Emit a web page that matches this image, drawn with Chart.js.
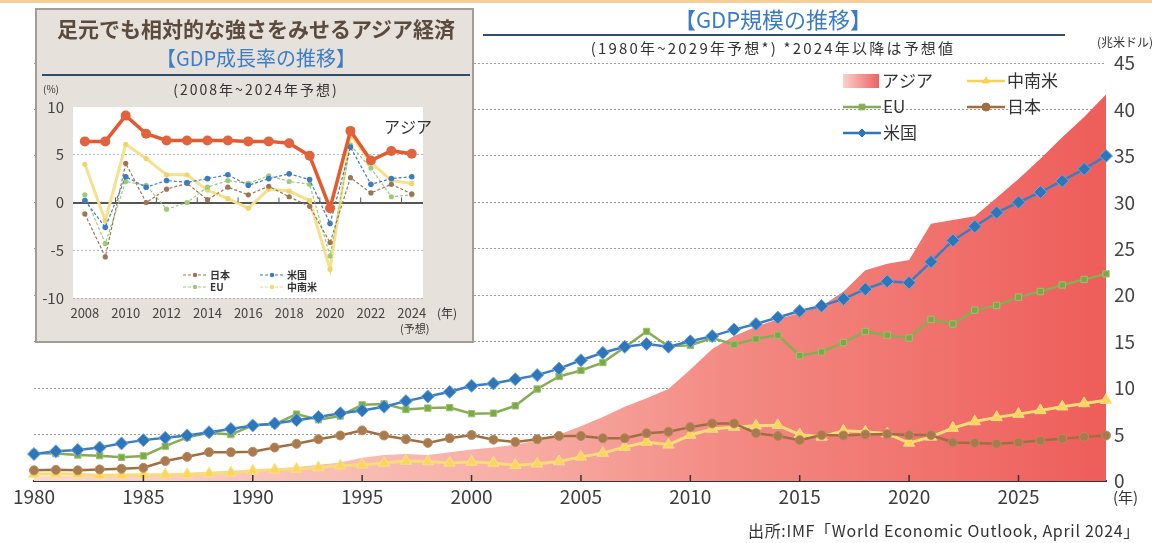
<!DOCTYPE html>
<html lang="ja">
<head>
<meta charset="utf-8">
<title>GDP規模の推移</title>
<script src="https://cdn.jsdelivr.net/npm/chart.js"></script>
<style>
  body { margin: 0; width: 1152px; height: 543px; overflow: hidden; background: #fff;
         font-family: 'Noto Sans CJK JP', 'Noto Sans', sans-serif; color: #333; }
  #page { position: relative; width: 1152px; height: 543px; }
  .txt { position: absolute; white-space: nowrap; z-index: 3; }
  #topband { position: absolute; left: 0; top: 0; width: 1152px; height: 3px; background: #f6cf98; }
  #inset { position: absolute; left: 35px; top: 8px; width: 439px; height: 335px; box-sizing: border-box;
           background: #e6e2db; border: 2px solid #a39d95; z-index: 2; }
  #insetChart { position: absolute; left: 0; top: 0; }
</style>
</head>
<body>
<div id="page">
  <div id="topband"></div>
  <canvas id="main" width="1152" height="543" style="position:absolute;left:0;top:0"></canvas>

  <div class="txt" style="left:0;width:1546px;top:4px;font-size:22px;line-height:28px;color:#3a7cc4;text-align:center">【GDP規模の推移】</div>
  <div style="position:absolute;left:483px;top:34px;width:582px;height:2px;background:#2f4e70"></div>
  <div class="txt" style="left:0;width:1546px;top:38px;font-size:15px;line-height:20px;text-align:center;letter-spacing:2.2px">(1980年~2029年予想*) *2024年以降は予想値</div>
  <div class="txt" style="left:1097px;top:34px;font-size:12px;line-height:16px">(兆米ドル)</div>
  <div class="txt" style="left:1113px;top:487px;font-size:15px;line-height:20px">(年)</div>
  <div class="txt" style="right:12px;top:520px;font-size:16px;line-height:20px;letter-spacing:0.7px">出所:IMF「World Economic Outlook, April 2024」</div>

  <div id="inset">
    <canvas id="insetChart" width="435" height="331"></canvas>
  </div>
  <div class="txt" style="left:35px;width:442px;top:15px;font-size:21px;line-height:26px;font-weight:bold;color:#5b4b3e;text-align:center">足元でも相対的な強さをみせるアジア経済</div>
  <div class="txt" style="left:35px;width:442px;top:45px;font-size:20px;line-height:26px;color:#3d7dc8;text-align:center">【GDP成長率の推移】</div>
  <div style="position:absolute;z-index:3;left:42px;top:74px;width:428px;height:2px;background:#2d4c6e"></div>
  <div class="txt" style="left:35px;width:442px;top:80px;font-size:14px;line-height:18px;text-align:center;letter-spacing:2px">(2008年~2024年予想)</div>
  <div class="txt" style="left:43px;top:83px;font-size:10px;line-height:12px">(%)</div>
  <div class="txt" style="left:437px;top:305px;font-size:12px;line-height:16px">(年)</div>
  <div class="txt" style="left:400px;top:321px;font-size:11px;line-height:14px">(予想)</div>
</div>

<script>
// main chart: GDP size, trillion USD
var years = [1980,1981,1982,1983,1984,1985,1986,1987,1988,1989,
             1990,1991,1992,1993,1994,1995,1996,1997,1998,1999,
             2000,2001,2002,2003,2004,2005,2006,2007,2008,2009,
             2010,2011,2012,2013,2014,2015,2016,2017,2018,2019,
             2020,2021,2022,2023,2024,2025,2026,2027,2028,2029];
var asia = [0.5,0.55,0.6,0.62,0.66,0.7,0.75,0.85,1.0,1.1,
            1.15,1.3,1.5,1.75,2.0,2.5,2.8,2.9,2.8,3.1,
            3.4,3.6,3.9,4.4,5.0,5.9,6.9,8.0,8.9,9.9,
            12.0,14.2,15.6,16.6,17.4,18.1,18.8,20.4,22.7,23.4,
            23.8,27.7,28.1,28.5,30.5,32.5,34.7,37.0,39.2,41.6];
var us = [2.9,3.2,3.35,3.6,4.05,4.4,4.65,4.9,5.25,5.6,
          5.98,6.2,6.55,6.9,7.3,7.6,8.0,8.6,9.1,9.6,
          10.25,10.5,10.95,11.4,12.1,13.0,13.8,14.45,14.75,14.45,
          15.05,15.6,16.3,16.9,17.6,18.3,18.85,19.6,20.65,21.5,
          21.35,23.6,25.9,27.4,28.9,30.0,31.1,32.3,33.6,35.0];
var eu = [3.0,2.95,2.8,2.73,2.55,2.7,3.75,4.7,5.2,5.0,
          6.0,6.1,7.2,6.6,7.0,8.2,8.3,7.7,7.85,7.9,
          7.25,7.3,8.1,9.9,11.25,11.9,12.75,14.4,16.1,14.5,
          14.6,15.4,14.7,15.3,15.7,13.5,13.9,14.9,16.1,15.7,
          15.4,17.4,16.9,18.4,18.9,19.8,20.4,21.1,21.7,22.3];
var japan = [1.15,1.2,1.15,1.25,1.32,1.42,2.15,2.6,3.1,3.1,
             3.15,3.6,4.0,4.5,4.9,5.45,4.9,4.5,4.1,4.6,
             4.95,4.45,4.2,4.5,4.85,4.85,4.6,4.6,5.15,5.3,
             5.8,6.2,6.2,5.15,4.85,4.4,4.95,4.9,5.0,5.05,
             4.95,4.95,4.15,4.1,4.0,4.15,4.35,4.55,4.75,4.9];
var latam = [0.75,0.78,0.72,0.62,0.64,0.66,0.68,0.72,0.8,0.9,
             1.1,1.2,1.3,1.45,1.65,1.75,1.95,2.15,2.1,1.95,
             2.05,1.95,1.7,1.85,2.1,2.6,3.0,3.65,4.2,3.9,
             4.95,5.6,5.8,5.95,6.0,5.0,4.75,5.4,5.3,5.1,
             4.1,4.75,5.7,6.4,6.85,7.2,7.6,8.0,8.35,8.7];

// inset chart: growth rate, %
var insetYears = [2008,2009,2010,2011,2012,2013,2014,2015,2016,2017,2018,2019,2020,2021,2022,2023,2024];
var asiaGrowth = [6.4,6.4,9.1,7.2,6.5,6.5,6.5,6.5,6.4,6.4,6.2,4.9,-0.6,7.5,4.4,5.4,5.1];
var usGrowth = [0.2,-2.6,2.7,1.6,2.3,2.1,2.5,2.9,1.8,2.5,3.0,2.4,-2.2,5.8,1.9,2.5,2.7];
var japanGrowth = [-1.2,-5.7,4.1,0.0,1.4,2.0,0.3,1.6,0.8,1.7,0.6,-0.4,-4.2,2.6,1.0,1.9,0.9];
var euGrowth = [0.8,-4.3,2.2,1.8,-0.7,0.0,1.6,2.3,2.0,2.8,2.2,1.9,-5.6,6.0,3.6,0.6,0.8];
var latamGrowth = [4.0,-1.9,6.1,4.6,2.9,2.9,1.3,0.4,-0.6,1.4,1.2,0.2,-7.0,7.1,4.2,2.3,2.0];

Chart.defaults.font.family = "'Noto Sans CJK JP', 'Noto Sans', sans-serif";

var blue = '#2f75ba', green = '#86ad55', brown = '#9f6f44', yellow = '#f8dc78', pink = '#ef6461';

function asiaFill(context) {
    var chart = context.chart;
    var area = chart.chartArea;
    if (!area) return pink;
    var g = chart.ctx.createLinearGradient(area.left, 0, area.right, 0);
    g.addColorStop(0, '#fbd8cc');
    g.addColorStop(0.45, '#f7aea6');
    g.addColorStop(0.65, '#f38a83');
    g.addColorStop(1, '#ee5d5a');
    return g;
}

function legendItem(ctx, x, y, color, style, label) {
    ctx.save();
    ctx.strokeStyle = color;
    ctx.lineWidth = 2.5;
    ctx.beginPath();
    ctx.moveTo(x, y);
    ctx.lineTo(x + 38, y);
    ctx.stroke();
    ctx.fillStyle = color;
    ctx.lineWidth = 1;
    Chart.helpers.drawPoint(ctx, {pointStyle: style, radius: 4, borderWidth: 1}, x + 19, y);
    ctx.fillStyle = '#333';
    ctx.font = "17px 'Noto Sans CJK JP'";
    ctx.textBaseline = 'middle';
    ctx.fillText(label, x + 40, y);
    ctx.restore();
}

var mainDecor = {
    id: 'mainDecor',
    afterDraw: function(chart) {
        var ctx = chart.ctx, x = chart.scales.x, area = chart.chartArea;
        // small upward ticks every 5 years
        ctx.save();
        ctx.strokeStyle = '#333';
        ctx.lineWidth = 1.5;
        years.forEach(function(yr, i) {
            if (yr % 5 !== 0 || i === 0) return;
            var px = x.getPixelForValue(i);
            ctx.beginPath();
            ctx.moveTo(px, area.bottom);
            ctx.lineTo(px, area.bottom - 6);
            ctx.stroke();
        });
        // legend
        var g = ctx.createLinearGradient(843, 0, 879, 0);
        g.addColorStop(0, '#fad0cc');
        g.addColorStop(1, '#ee6160');
        ctx.fillStyle = g;
        ctx.fillRect(843, 74, 36, 14);
        ctx.fillStyle = '#333';
        ctx.font = "17px 'Noto Sans CJK JP'";
        ctx.textBaseline = 'middle';
        ctx.fillText('アジア', 882, 81);
        ctx.restore();
        legendItem(ctx, 967, 81, '#f5d15a', 'triangle', '中南米');
        legendItem(ctx, 843, 107, green, 'rect', 'EU');
        legendItem(ctx, 967, 107, brown, 'circle', '日本');
        legendItem(ctx, 843, 133, blue, 'rectRot', '米国');
    }
};

new Chart(document.getElementById('main'), {
    type: 'line',
    data: {
        labels: years,
        datasets: [
            {label: '米国', data: us, borderColor: '#3a7dc0', borderWidth: 2.5, pointStyle: 'rectRot',
             pointRadius: 6.5, pointBackgroundColor: blue, pointBorderColor: '#6fa9dc', pointBorderWidth: 1, order: 1},
            {label: 'EU', data: eu, borderColor: green, borderWidth: 2.5, pointStyle: 'rect',
             pointRadius: 4.5, pointBackgroundColor: '#7da84a', pointBorderColor: '#9cc26a', pointBorderWidth: 1, order: 2},
            {label: '日本', data: japan, borderColor: brown, borderWidth: 2.5, pointStyle: 'circle',
             pointRadius: 4.5, pointBackgroundColor: '#a87a4d', pointBorderColor: '#b98c60', pointBorderWidth: 1, order: 3},
            {label: '中南米', data: latam, borderColor: yellow, borderWidth: 3, pointStyle: 'triangle',
             pointRadius: 6.5, pointBackgroundColor: '#fbd55c', pointBorderColor: '#fbe08a', pointBorderWidth: 1, order: 4},
            {label: 'アジア', data: asia, fill: 'origin', borderWidth: 0, pointRadius: 0,
             borderColor: 'rgba(0,0,0,0)', backgroundColor: asiaFill, order: 10}
        ]
    },
    options: {
        responsive: false,
        animation: false,
        layout: {padding: {left: 34, top: 63, right: 0, bottom: 0}},
        plugins: {legend: {display: false}, tooltip: {enabled: false}},
        scales: {
            x: {
                type: 'category', z: 1,
                grid: {display: false, drawTicks: false},
                border: {display: true, color: '#333', width: 2},
                ticks: {autoSkip: false, maxRotation: 0, padding: 4, color: '#3c3c3c', font: {size: 19},
                        callback: function(v, i) { return years[i] % 5 === 0 ? String(years[i]) : ''; }},
                afterFit: function(s) { s.height = 62; }
            },
            y: {
                position: 'right', min: 0, max: 45,
                grid: {color: '#9d9d9d', lineWidth: 1, drawTicks: false},
                border: {display: false, dash: [2, 2]},
                ticks: {stepSize: 5, padding: 8, color: '#444', font: {size: 19}},
                afterFit: function(s) { s.width = 46; }
            }
        }
    },
    plugins: [mainDecor]
});

// inset chart
var insetDecor = {
    id: 'insetDecor',
    beforeDraw: function(chart) {
        var a = chart.chartArea, ctx = chart.ctx;
        ctx.save();
        ctx.fillStyle = '#ffffff';
        ctx.fillRect(a.left, a.top, a.right - a.left, a.bottom - a.top);
        ctx.restore();
    },
    afterDraw: function(chart) {
        var ctx = chart.ctx, x = chart.scales.x, y = chart.scales.y;
        ctx.save();
        ctx.strokeStyle = '#555';
        ctx.lineWidth = 1;
        var y0 = y.getPixelForValue(0);
        insetYears.forEach(function(yr) {
            if (yr % 2 === 0) return;
            var px = x.getPixelForValue(yr + 0.5);
            ctx.beginPath();
            ctx.moveTo(px, y0);
            ctx.lineTo(px, y0 - 5);
            ctx.stroke();
        });
        ctx.font = "16px 'Noto Sans CJK JP'";
        ctx.fillStyle = '#333';
        ctx.textBaseline = 'middle';
        ctx.fillText('アジア', 347, 117);
        // small legend
        var items = [
            ['日本', '#9a7656', 146, 265], ['EU', '#9ccb78', 146, 277],
            ['米国', '#3b7cc0', 223, 265], ['中南米', '#f2d86e', 223, 277]
        ];
        ctx.font = "bold 10px 'Noto Sans CJK JP'";
        items.forEach(function(it) {
            ctx.strokeStyle = it[1];
            ctx.fillStyle = it[1];
            ctx.lineWidth = 1.2;
            ctx.setLineDash([3, 2]);
            ctx.beginPath();
            ctx.moveTo(it[2], it[3]);
            ctx.lineTo(it[2] + 25, it[3]);
            ctx.stroke();
            ctx.setLineDash([]);
            ctx.beginPath();
            ctx.arc(it[2] + 12, it[3], 2.2, 0, Math.PI * 2);
            ctx.fill();
            ctx.fillStyle = '#333';
            ctx.fillText(it[0], it[2] + 27, it[3]);
        });
        ctx.restore();
    }
};

function growthSet(label, data, color, width, dash, r) {
    return {label: label, data: data.map(function(v, i) { return {x: insetYears[i], y: v}; }),
            borderColor: color, borderWidth: width, borderDash: dash, pointRadius: r,
            pointBackgroundColor: color, pointBorderColor: color, pointBorderWidth: 0};
}

new Chart(document.getElementById('insetChart'), {
    type: 'line',
    data: {
        datasets: [
            Object.assign(growthSet('アジア', asiaGrowth, '#e5592f', 3.5, [], 5), {pointBackgroundColor: '#e0633d', order: 0}),
            Object.assign(growthSet('米国', usGrowth, '#3b7cc0', 1.2, [3, 2], 2.8), {order: 1}),
            Object.assign(growthSet('日本', japanGrowth, '#9a7656', 1.2, [3, 2], 2.6), {order: 2}),
            Object.assign(growthSet('EU', euGrowth, '#9ccb78', 1.2, [3, 2], 2.6), {order: 3}),
            Object.assign(growthSet('中南米', latamGrowth, '#f6e08e', 3, [], 2.6), {pointBackgroundColor: '#efd46a', order: 4})
        ]
    },
    options: {
        responsive: false,
        animation: false,
        layout: {padding: {left: 6, top: 97, right: 49, bottom: 0}},
        plugins: {legend: {display: false}, tooltip: {enabled: false}},
        scales: {
            x: {
                type: 'linear', min: 2007.42, max: 2024.55,
                grid: {display: false, drawTicks: false}, border: {display: false},
                afterBuildTicks: function(s) {
                    s.ticks = insetYears.filter(function(v) { return v % 2 === 0; }).map(function(v) { return {value: v}; });
                },
                ticks: {padding: 7, color: '#444', font: {size: 13}, callback: function(v) { return String(v); }},
                afterFit: function(s) { s.height = 43; }
            },
            y: {
                min: -10, max: 10,
                grid: {drawTicks: false,
                       color: function(c) { return c.tick.value === 0 ? '#555' : (c.tick.value === 10 ? 'rgba(0,0,0,0)' : '#b4b4b4'); },
                       lineWidth: function(c) { return c.tick.value === 0 ? 2 : 1; }},
                border: {display: false, dash: function(c) { return c.tick && c.tick.value === 0 ? [] : [2, 2]; }},
                ticks: {stepSize: 5, padding: 9, color: '#444', font: {size: 15}},
                afterFit: function(s) { s.width = 30; }
            }
        }
    },
    plugins: [insetDecor]
});
</script>
</body>
</html>
